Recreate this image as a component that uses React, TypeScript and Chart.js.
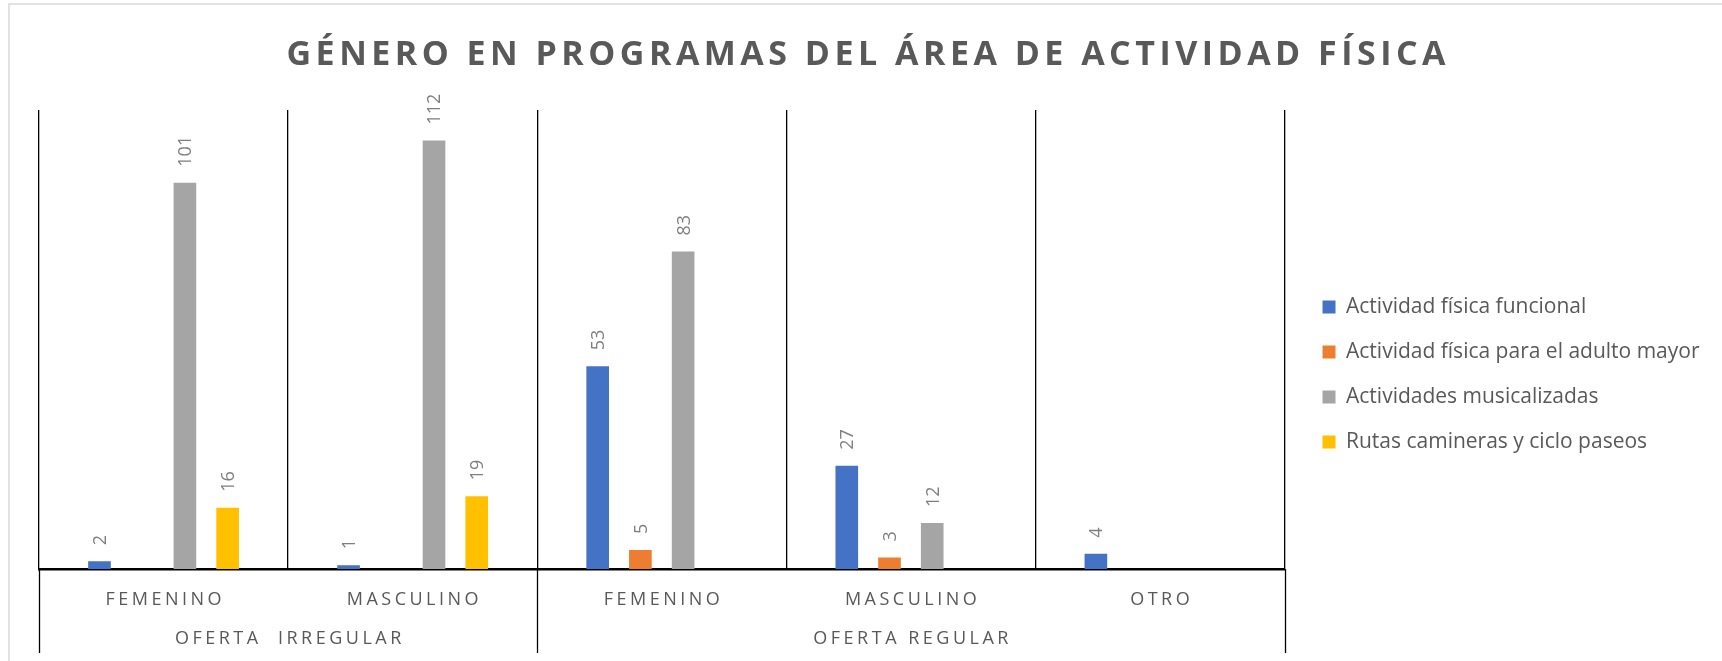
import React, { useEffect, useRef } from 'react';
import { Chart, registerables } from 'chart.js';

Chart.register(...registerables);

const titleText = 'GÉNERO EN PROGRAMAS DEL ÁREA DE ACTIVIDAD FÍSICA';
const subCategories = ['FEMENINO', 'MASCULINO', 'FEMENINO', 'MASCULINO', 'OTRO'];
const groupLabels = ['OFERTA  IRREGULAR', 'OFERTA REGULAR'];
const groupSizes = [2, 3];

const seriesNames = [
  'Actividad física funcional',
  'Actividad física para el adulto mayor',
  'Actividades musicalizadas',
  'Rutas camineras y ciclo paseos',
];
const funcional = [2, 1, 53, 27, 4];
const adultoMayor = [null, null, 5, 3, null];
const musicalizadas = [101, 112, 83, 12, null];
const rutas = [16, 19, null, null, null];
const seriesColors = ['#4472C4', '#ED7D31', '#A5A5A5', '#FFC000'];

const yMin = 0;
const yMax = 120;

const FONT = '"Open Sans", "Noto Sans", sans-serif';

const decorPlugin = {
  id: 'decor',
  afterLayout(chart: any) {
    const lg = chart.legend;
    if (lg) {
      lg.left += 14;
      lg.right += 14;
      lg.top -= 7;
      lg.bottom -= 7;
    }
  },
  beforeDraw(chart: any) {
    const ctx = chart.ctx;
    ctx.save();
    ctx.fillStyle = '#ffffff';
    ctx.fillRect(0, 0, chart.width, chart.height);
    ctx.strokeStyle = '#d9d9d9';
    ctx.lineWidth = 1.5;
    ctx.beginPath();
    ctx.moveTo(9, chart.height);
    ctx.lineTo(9, 4);
    ctx.lineTo(chart.width, 4);
    ctx.stroke();
    ctx.restore();
  },
  afterDraw(chart: any) {
    const ctx = chart.ctx;
    const xs = chart.scales.x;
    const area = chart.chartArea;
    ctx.save();

    // Title with letter spacing
    ctx.font = `bold 34px ${FONT}`;
    ctx.fillStyle = '#595959';
    ctx.textAlign = 'left';
    ctx.textBaseline = 'alphabetic';
    (ctx as any).letterSpacing = '0px';
    const targetW = 1159;
    const w0 = ctx.measureText(titleText).width;
    const ls = (targetW - w0) / (titleText.length - 1);
    (ctx as any).letterSpacing = `${ls}px`;
    ctx.fillText(titleText, chart.width / 2 + 5 - targetW / 2, 65);

    // Boundaries
    const n = subCategories.length;
    const centers = subCategories.map((_, i) => xs.getPixelForValue(i));
    const step = n > 1 ? centers[1] - centers[0] : xs.width;
    const boundary = (i: number) => centers[0] - step / 2 + i * step;

    // Extended separator lines below the axis
    ctx.strokeStyle = '#000000';
    ctx.lineWidth = 1.3;
    let acc = 0;
    const ext = [0];
    groupSizes.forEach((g) => {
      acc += g;
      ext.push(acc);
    });
    ext.forEach((b) => {
      const px = Math.round(boundary(b)) + 0.5;
      ctx.beginPath();
      ctx.moveTo(px, area.bottom);
      ctx.lineTo(px, area.bottom + 84);
      ctx.stroke();
    });

    // Category labels
    ctx.font = `18px ${FONT}`;
    ctx.fillStyle = '#595959';
    const cls = 3.5;
    (ctx as any).letterSpacing = `${cls}px`;
    subCategories.forEach((lab, i) => {
      const w = ctx.measureText(lab).width - cls;
      ctx.fillText(lab, centers[i] - w / 2, area.bottom + 36);
    });
    let start = 0;
    groupLabels.forEach((lab, gi) => {
      const end = start + groupSizes[gi];
      const cx = (boundary(start) + boundary(end)) / 2;
      const w = ctx.measureText(lab).width - cls;
      ctx.fillText(lab, cx - w / 2, area.bottom + 75);
      start = end;
    });

    // Data labels (rotated)
    (ctx as any).letterSpacing = '0px';
    ctx.font = `18px ${FONT}`;
    ctx.fillStyle = '#7f7f7f';
    const capH = 0.714 * 18;
    chart.data.datasets.forEach((ds: any, di: number) => {
      const meta = chart.getDatasetMeta(di);
      meta.data.forEach((el: any, i: number) => {
        const v = ds.data[i];
        if (v === null || v === undefined) return;
        ctx.save();
        ctx.translate(el.x, el.y - 16);
        ctx.rotate(-Math.PI / 2);
        ctx.textAlign = 'left';
        ctx.fillText(String(v), 0, capH / 2);
        ctx.restore();
      });
    });

    ctx.restore();
  },
};

export default function App() {
  const ref = useRef<HTMLCanvasElement | null>(null);

  useEffect(() => {
    if (!ref.current) return;
    const seriesData = [funcional, adultoMayor, musicalizadas, rutas];
    const chart = new Chart(ref.current, {
      type: 'bar',
      data: {
        labels: subCategories,
        datasets: seriesNames.map((name, i) => ({
          label: name,
          data: seriesData[i] as any,
          backgroundColor: seriesColors[i],
          borderWidth: 0,
          categoryPercentage: 0.686,
          barPercentage: 0.53,
        })),
      },
      options: {
        responsive: false,
        animation: false,
        layout: { padding: { left: 39, top: 110, right: 26.5, bottom: 8 } },
        plugins: {
          title: { display: false },
          tooltip: { enabled: false },
          legend: {
            position: 'right',
            labels: {
              boxWidth: 13,
              boxHeight: 13,
              padding: 24,
              color: '#595959',
              font: { size: 21, family: FONT },
            },
          },
        },
        scales: {
          x: {
            grid: { color: '#000000', lineWidth: 1.3, offset: true, drawTicks: false },
            border: { display: true, color: '#000000', width: 2.5 },
            ticks: { display: false },
            afterFit: (s: any) => {
              s.height = 84;
            },
          },
          y: {
            display: false,
            min: yMin,
            max: yMax,
          },
        },
      },
      plugins: [decorPlugin],
    });
    return () => chart.destroy();
  }, []);

  return (
    <div style={{ position: 'fixed', left: 0, top: 0, width: 1722, height: 661, background: '#fff' }}>
      <canvas ref={ref} width={1722} height={661} />
    </div>
  );
}
